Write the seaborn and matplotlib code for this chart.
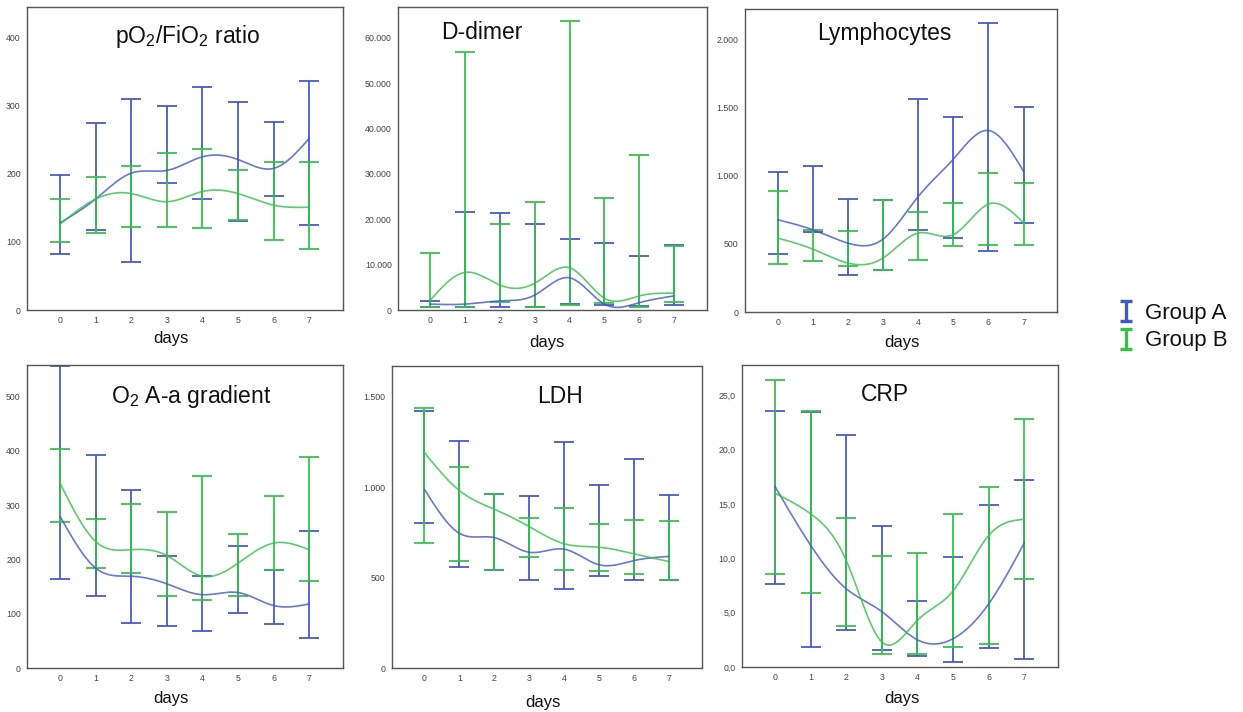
import numpy as np
import pandas as pd
import matplotlib
matplotlib.use("Agg")
import matplotlib.pyplot as plt
from matplotlib.lines import Line2D
from matplotlib.path import Path
import seaborn as sns

# ---------------------------------------------------------------- data
DAYS = [0, 1, 2, 3, 4, 5, 6, 7]
GROUPS = ["Group A", "Group B"]

# pO2/FiO2 ratio
PO2_A_MEAN = [128, 163, 201, 205, 225, 221, 208, 252]
PO2_A_LO = [82, 118, 70, 187, 163, 131, 168, 125]
PO2_A_HI = [198, 275, 310, 300, 327, 305, 276, 336]
PO2_B_MEAN = [126, 163, 171, 159, 174, 171, 154, 151]
PO2_B_LO = [100, 113, 122, 122, 120, 132, 103, 89]
PO2_B_HI = [163, 196, 212, 231, 237, 206, 218, 217]
PO2_TICKS = [0, 100, 200, 300, 400]
PO2_LABELS = ["0", "100", "200", "300", "400"]

# D-dimer
DDIM_A_MEAN = [1300, 1300, 2000, 3300, 7100, 1300, 1600, 3100]
DDIM_A_LO = [600, 600, 700, 700, 1300, 1100, 900, 1100]
DDIM_A_HI = [2000, 21500, 21300, 18900, 15700, 14800, 12000, 14300]
DDIM_B_MEAN = [2200, 8300, 5500, 5900, 9300, 2600, 3100, 3700]
DDIM_B_LO = [700, 700, 1800, 700, 1100, 1500, 700, 1800]
DDIM_B_HI = [12600, 56900, 18900, 23900, 63700, 24800, 34100, 14200]
DDIM_TICKS = [0, 10000, 20000, 30000, 40000, 50000, 60000]
DDIM_LABELS = ["0", "10.000", "20.000", "30.000", "40.000", "50.000", "60.000"]

# Lymphocytes
LYM_A_MEAN = [676, 603, 505, 535, 847, 1121, 1331, 1030]
LYM_A_LO = [425, 590, 274, 305, 603, 542, 444, 652]
LYM_A_HI = [1030, 1074, 828, 820, 1560, 1429, 2117, 1507]
LYM_B_MEAN = [542, 461, 359, 396, 579, 567, 791, 652]
LYM_B_LO = [352, 376, 335, 310, 383, 481, 493, 493]
LYM_B_HI = [891, 600, 596, 823, 733, 803, 1021, 945]
LYM_TICKS = [0, 500, 1000, 1500, 2000]
LYM_LABELS = ["0", "500", "1.000", "1.500", "2.000"]

# O2 A-a gradient
AA_A_MEAN = [279, 184, 169, 155, 135, 139, 115, 118]
AA_A_LO = [164, 132, 83, 78, 69, 102, 81, 55]
AA_A_HI = [556, 392, 328, 206, 169, 224, 181, 252]
AA_B_MEAN = [340, 233, 218, 207, 169, 193, 230, 218]
AA_B_LO = [269, 184, 175, 132, 126, 133, 181, 161]
AA_B_HI = [404, 275, 302, 288, 354, 247, 316, 388]
AA_TICKS = [0, 100, 200, 300, 400, 500]
AA_LABELS = ["0", "100", "200", "300", "400", "500"]

# LDH
LDH_A_MEAN = [988, 745, 721, 640, 657, 571, 594, 617]
LDH_A_LO = [801, 561, 543, 488, 438, 506, 488, 484]
LDH_A_HI = [1421, 1257, 961, 952, 1252, 1012, 1154, 957]
LDH_B_MEAN = [1191, 981, 878, 782, 687, 668, 631, 589]
LDH_B_LO = [690, 589, 543, 613, 543, 537, 519, 484]
LDH_B_HI = [1439, 1114, 961, 832, 883, 795, 819, 814]
LDH_TICKS = [0, 500, 1000, 1500]
LDH_LABELS = ["0", "500", "1.000", "1.500"]

# CRP
CRP_A_MEAN = [16.6, 11.2, 7.2, 5.1, 2.5, 2.6, 5.8, 11.4]
CRP_A_LO = [7.6, 1.8, 3.4, 1.6, 1.0, 0.5, 1.75, 0.7]
CRP_A_HI = [23.6, 23.5, 21.4, 13.0, 6.1, 10.1, 14.9, 17.2]
CRP_B_MEAN = [16.0, 14.1, 9.8, 2.3, 4.3, 7.0, 12.1, 13.6]
CRP_B_LO = [8.6, 6.8, 3.8, 1.2, 1.2, 1.8, 2.1, 8.1]
CRP_B_HI = [26.4, 23.6, 13.7, 10.2, 10.5, 14.1, 16.6, 22.8]
CRP_TICKS = [0, 5, 10, 15, 20, 25]
CRP_LABELS = ["0,0", "5,0", "10,0", "15,0", "20,0", "25,0"]

# ---------------------------------------------------------------- style
sns.set_style("white")
plt.rcParams["font.family"] = ["Liberation Sans", "DejaVu Sans"]
plt.rcParams["mathtext.fontset"] = "custom"
plt.rcParams["mathtext.rm"] = "Liberation Sans"
plt.rcParams["mathtext.default"] = "regular"

BLUE = "#4457c6"
GREEN = "#35c04a"
PALETTE = {"Group A": BLUE, "Group B": GREEN}

W, H = 1243, 712
fig = plt.figure(figsize=(W / 100, H / 100), dpi=100)


def natural_spline(x, y, n=300):
    """Natural cubic spline through (x, y), sampled at n points."""
    x = np.asarray(x, float)
    y = np.asarray(y, float)
    m = len(x)
    h = np.diff(x)
    A = np.zeros((m, m))
    rhs = np.zeros(m)
    A[0, 0] = A[-1, -1] = 1.0
    for i in range(1, m - 1):
        A[i, i - 1] = h[i - 1]
        A[i, i] = 2 * (h[i - 1] + h[i])
        A[i, i + 1] = h[i]
        rhs[i] = 6 * ((y[i + 1] - y[i]) / h[i] - (y[i] - y[i - 1]) / h[i - 1])
    M = np.linalg.solve(A, rhs)
    xs = np.linspace(x[0], x[-1], n)
    idx = np.clip(np.searchsorted(x, xs) - 1, 0, m - 2)
    x0, x1 = x[idx], x[idx + 1]
    hh = x1 - x0
    t0, t1 = x1 - xs, xs - x0
    ys = (M[idx] * t0 ** 3 / (6 * hh) + M[idx + 1] * t1 ** 3 / (6 * hh)
          + (y[idx] / hh - M[idx] * hh / 6) * t0
          + (y[idx + 1] / hh - M[idx + 1] * hh / 6) * t1)
    return xs, ys


def px_rect(l, t, r, b):
    return [l / W, 1 - b / H, (r - l) / W, (b - t) / H]


PANELS = [
    dict(title=r"pO$_2$/FiO$_2$ ratio", rect=(27, 7, 343, 310), ytop=445,
         title_xy=(188, 43), xlabel_xy=(171, 338),
         a=(PO2_A_MEAN, PO2_A_LO, PO2_A_HI), b=(PO2_B_MEAN, PO2_B_LO, PO2_B_HI),
         ticks=PO2_TICKS, labels=PO2_LABELS),
    dict(title="D-dimer", rect=(398, 7, 707, 310), ytop=66800,
         title_xy=(482, 39), xlabel_xy=(547, 342),
         a=(DDIM_A_MEAN, DDIM_A_LO, DDIM_A_HI), b=(DDIM_B_MEAN, DDIM_B_LO, DDIM_B_HI),
         ticks=DDIM_TICKS, labels=DDIM_LABELS),
    dict(title="Lymphocytes", rect=(745, 9, 1057, 312), ytop=2222,
         title_xy=(884, 40), xlabel_xy=(902, 342),
         a=(LYM_A_MEAN, LYM_A_LO, LYM_A_HI), b=(LYM_B_MEAN, LYM_B_LO, LYM_B_HI),
         ticks=LYM_TICKS, labels=LYM_LABELS),
    dict(title=r"O$_2$ A-a gradient", rect=(27, 365, 343, 668), ytop=558,
         title_xy=(191, 403), xlabel_xy=(171, 698),
         a=(AA_A_MEAN, AA_A_LO, AA_A_HI), b=(AA_B_MEAN, AA_B_LO, AA_B_HI),
         ticks=AA_TICKS, labels=AA_LABELS),
    dict(title="LDH", rect=(392, 366, 702, 668), ytop=1670,
         title_xy=(560, 403), xlabel_xy=(543, 702),
         a=(LDH_A_MEAN, LDH_A_LO, LDH_A_HI), b=(LDH_B_MEAN, LDH_B_LO, LDH_B_HI),
         ticks=LDH_TICKS, labels=LDH_LABELS),
    dict(title="CRP", rect=(742, 365, 1058, 667), ytop=27.8,
         title_xy=(885, 401), xlabel_xy=(902, 698),
         a=(CRP_A_MEAN, CRP_A_LO, CRP_A_HI), b=(CRP_B_MEAN, CRP_B_LO, CRP_B_HI),
         ticks=CRP_TICKS, labels=CRP_LABELS),
]

for p in PANELS:
    ax = fig.add_axes(px_rect(*p["rect"]))
    l, t, r, b = p["rect"]
    # error bars for each group
    for grp, (mean, lo, hi) in zip(GROUPS, (p["a"], p["b"])):
        mean = np.asarray(mean, float)
        yerr = [mean - np.asarray(lo, float), np.asarray(hi, float) - mean]
        ax.errorbar(DAYS, mean, yerr=yerr, fmt="none", ecolor=PALETTE[grp],
                    elinewidth=1.4, capsize=7, capthick=1.4, alpha=0.9)
    # smooth interpolation line through the means
    frames = []
    for grp, (mean, _, _) in zip(GROUPS, (p["a"], p["b"])):
        xs, ys = natural_spline(DAYS, mean)
        frames.append(pd.DataFrame({"day": xs, "value": ys, "group": grp}))
    curves = pd.concat(frames, ignore_index=True)
    sns.lineplot(data=curves, x="day", y="value", hue="group", palette=PALETTE,
                 linewidth=1.2, alpha=0.8, legend=False, ax=ax, estimator=None,
                 sort=False)

    ax.set_xlim(-0.93, 7.95)
    ax.set_ylim(0, p["ytop"])
    ax.set_xticks(DAYS)
    ax.set_xticklabels([str(d) for d in DAYS])
    ax.set_yticks(p["ticks"])
    ax.set_yticklabels(p["labels"])
    ax.tick_params(axis="both", direction="out", length=3, width=0.8,
                   color="#555555", labelsize=6.3, labelcolor="#444444", pad=1.5)
    for s in ax.spines.values():
        s.set_visible(True)
        s.set_color("#555555")
        s.set_linewidth(1.0)
    ax.set_ylabel("")
    ax.set_xlabel("days", fontsize=12, color="#111111")
    lx, ly = p["xlabel_xy"]
    ax.xaxis.set_label_coords((lx - l) / (r - l), (b - ly) / (b - t))
    ax.xaxis.label.set_va("center")
    tx, ty = p["title_xy"]
    ax.text((tx - l) / (r - l), (b - ty) / (b - t), p["title"], transform=ax.transAxes,
            ha="center", va="baseline", fontsize=16.5, color="#111111")

# legend key: an "I"-shaped error-bar glyph per group
I_GLYPH = Path(
    [(-0.55, 1), (0.55, 1), (0, 1), (0, -1), (-0.55, -1), (0.55, -1)],
    [Path.MOVETO, Path.LINETO, Path.MOVETO, Path.LINETO, Path.MOVETO, Path.LINETO],
)
legend_handles = [
    Line2D([], [], linestyle="none", marker=I_GLYPH, markersize=14.5,
           markerfacecolor="none", markeredgecolor=PALETTE[g], markeredgewidth=2.4)
    for g in GROUPS
]
fig.legend(legend_handles, GROUPS, loc="center left",
           bbox_to_anchor=(1117 / W, 1 - 327 / H), frameon=False, fontsize=16,
           handlelength=0.8, handletextpad=0.45, labelspacing=0.3,
           borderaxespad=0, borderpad=0, labelcolor="#111111")

fig.savefig("out.png", dpi=100, facecolor="white")
